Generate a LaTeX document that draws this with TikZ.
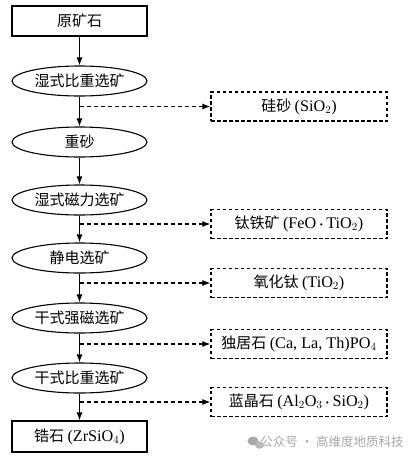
\documentclass[tikz,border=0pt]{standalone}
\usepackage{amsmath}
\usepackage{fontspec}
\setmainfont[Scale=1.08]{Liberation Serif}
\newfontfamily\cjk{Noto Sans CJK SC}
\usepackage{tikz}
\usetikzlibrary{positioning,arrows.meta,shapes.geometric}
\definecolor{markgray}{HTML}{A8A8A8}

\begin{document}
\begin{tikzpicture}[
    x=1pt, y=-1pt,
    every node/.style={font=\fontsize{15}{17}\selectfont\cjk},
    stepbox/.style={draw, line width=1.1pt, minimum width=135pt, minimum height=#1, inner sep=0pt},
    stepoval/.style={draw, line width=1.1pt, ellipse, minimum width=135pt, minimum height=30pt, inner sep=0pt},
    outbox/.style={draw, line width=1.1pt, dash pattern=on 3.5pt off 2.5pt, minimum width=176pt, minimum height=29pt, inner sep=0pt},
    flow/.style={line width=1.1pt, -{Latex[length=8pt,width=6pt]}},
    side/.style={line width=1.1pt, dash pattern=on 4pt off 3pt, -{Latex[length=8pt,width=6pt]}}
]
    \useasboundingbox (0,0) rectangle (415,458);

    % Main line
    \node[stepbox=30pt] (ore) at (79.5,21) {原矿石};
    \node[stepoval] (s1) at (79.5,81) {湿式比重选矿};
    \node[stepoval] (heavy) at (79.5,142) {重砂};
    \node[stepoval] (s2) at (79.5,200) {湿式磁力选矿};
    \node[stepoval] (s3) at (79.5,258) {静电选矿};
    \node[stepoval] (s4) at (79.5,318) {干式强磁选矿};
    \node[stepoval] (s5) at (79.5,378) {干式比重选矿};
    \node[stepbox=31pt] (zircon) at (79.5,436.5) {锆石 {\rmfamily(ZrSiO$_4$)}};

    \draw[flow] (ore) -- (s1);
    \draw[flow] (s1) -- (heavy);
    \draw[flow] (heavy) -- (s2);
    \draw[flow] (s2) -- (s3);
    \draw[flow] (s3) -- (s4);
    \draw[flow] (s4) -- (s5);
    \draw[flow] (s5) -- (zircon);

    % Separated products
    \node[outbox] (p1) at (299,106.5) {硅砂 {\rmfamily(SiO$_2$)}};
    \node[outbox] (p2) at (299,224) {钛铁矿 {\rmfamily(FeO\,$\boldsymbol{\cdot}$\,TiO$_2$)}};
    \node[outbox] (p3) at (299,283) {氧化钛 {\rmfamily(TiO$_2$)}};
    \node[outbox] (p4) at (299,344) {独居石 {\rmfamily(Ca, La, Th)PO$_4$}};
    \node[outbox] (p5) at (299,402) {蓝晶石 {\rmfamily(Al$_2$O$_3$\,$\boldsymbol{\cdot}$\,SiO$_2$)}};

    \draw[side] (s1.south |- p1.west) -- (p1.west);
    \draw[side] (s2.south |- p2.west) -- (p2.west);
    \draw[side] (s3.south |- p3.west) -- (p3.west);
    \draw[side] (s4.south |- p4.west) -- (p4.west);
    \draw[side] (s5.south |- p5.west) -- (p5.west);

    % Watermark
    \node[font=\fontsize{12.5}{14}\selectfont\cjk, color=markgray] (mark) at (332,442) {公众号 · 高维度地质科技};
    \fill[markgray] (253,441) ellipse (5.5pt and 4.5pt);
    \fill[markgray!80] (259.5,445) ellipse (4.5pt and 3.8pt);
\end{tikzpicture}
\end{document}
